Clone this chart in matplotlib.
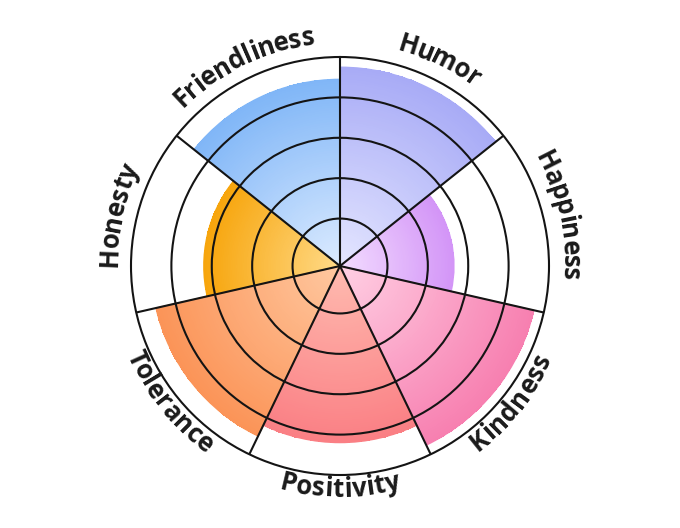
import numpy as np
import matplotlib
matplotlib.use("Agg")
from matplotlib import pyplot as plt
from matplotlib.colors import to_rgb
from matplotlib.font_manager import FontProperties

# sectors go clockwise from 12 o'clock
labels = ["Humor", "Happiness", "Kindness", "Positivity", "Tolerance", "Honesty", "Friendliness"]
values = [9.5, 5.3, 9.5, 8.4, 9.0, 6.4, 8.9]
inner_colors = ["#e4e6ff", "#f3ddff", "#ffd0e4", "#ffbbb0", "#ffc8a0", "#ffda88", "#dcebff"]
outer_colors = ["#a8abf6", "#d395f7", "#f77fb0", "#fa7f84", "#fb9458", "#f7a50c", "#80b6f7"]
rings = [2, 4, 6, 8]
rmin, rmax = -0.35, 10

fig = plt.figure(figsize=(6.8, 5.28), dpi=100)
R_PX = 209
ax = fig.add_axes([(340 - R_PX) / 680, (528 - 266 - R_PX) / 528, 2 * R_PX / 680, 2 * R_PX / 528],
                  projection="polar")
ax.set_theta_zero_location("N")
ax.set_theta_direction(-1)
ax.set_ylim(rmin, rmax)

n = len(labels)
step = 2 * np.pi / n
for i in range(n):
    th = np.linspace(i * step, (i + 1) * step, 40)
    r = np.linspace(rmin, values[i], 80)
    frac = (r[:-1] + r[1:]) / 2
    frac = (frac - rmin) / (values[i] - rmin)
    c0 = np.array(to_rgb(inner_colors[i]))
    c1 = np.array(to_rgb(outer_colors[i]))
    cols = c0[None, :] + (c1 - c0)[None, :] * frac[:, None]
    C = np.repeat(cols[:, None, :], len(th) - 1, axis=1)
    ax.pcolormesh(th, r, C, shading="flat", antialiased=False, edgecolors="none", zorder=1)
    # smooth outer rim
    ax.bar((i + 0.5) * step, values[i] - rmin, width=step, bottom=rmin, align="center",
           facecolor="none", edgecolor=outer_colors[i], linewidth=0.8, zorder=1.5)

ax.set_axisbelow(False)
ax.set_rgrids(rings, labels=[""] * len(rings))
ax.set_thetagrids(np.degrees(np.arange(n) * step), labels=[""] * n)
ax.grid(True, color="#141414", linewidth=1.5, linestyle="-")
ax.spines["polar"].set_color("#141414")
ax.spines["polar"].set_linewidth(1.5)
ax.tick_params(length=0)

# curved labels, one character at a time
fp = FontProperties(family=["Open Sans", "DejaVu Sans"], weight="bold", size=18.5)
renderer = fig.canvas.get_renderer()
to_data = lambda px: rmin + px / R_PX * (rmax - rmin)


def width(s):
    if not s:
        return 0.0
    return renderer.get_text_width_height_descent(s, fp, ismath=False)[0]


for i, lab in enumerate(labels):
    phi_mid = 90 - np.degrees((i + 0.5) * step)
    top = np.sin(np.radians(phi_mid)) > -0.1
    if top:
        r_base, r_mid = 223, 232
    else:
        r_base, r_mid = 231, 222
    total = width(lab)
    for k, ch in enumerate(lab):
        s_c = (width(lab[:k]) + width(lab[:k + 1])) / 2 - total / 2
        dphi = np.degrees(s_c / r_mid)
        if top:
            phi = phi_mid - dphi
            rot = phi - 90
        else:
            phi = phi_mid + dphi
            rot = phi + 90
        ax.text(np.radians(90 - phi), to_data(r_base), ch, fontproperties=fp,
                rotation=rot, rotation_mode="anchor", ha="center", va="baseline",
                color="#1a1a1a", clip_on=False)

fig.savefig("out.png", dpi=100)
